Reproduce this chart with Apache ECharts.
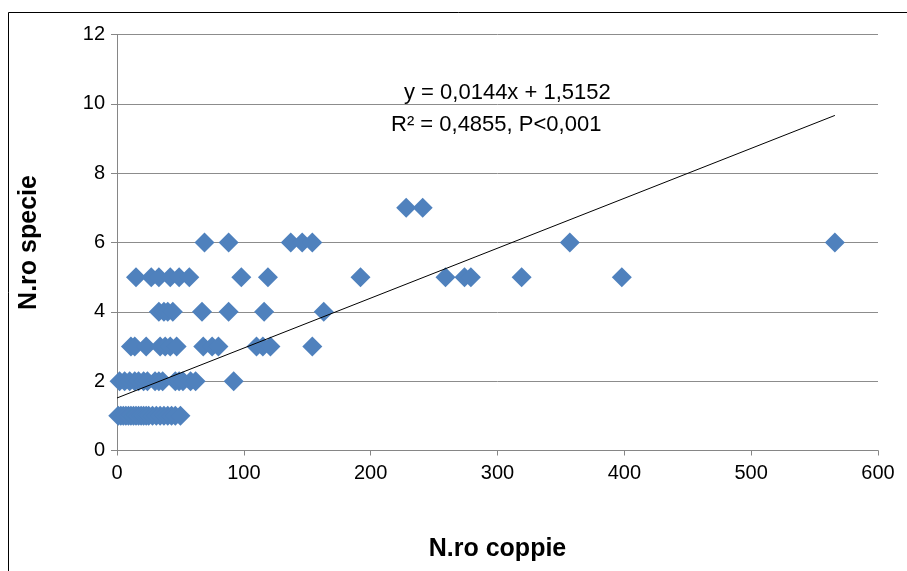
<!DOCTYPE html>
<html><head><meta charset="utf-8">
<script src="https://cdn.jsdelivr.net/npm/echarts@6/dist/echarts.min.js"></script>
<style>html,body{margin:0;padding:0;background:#fff}#c{width:907px;height:571px}</style>
</head><body><div id="c"></div>
<script>
// Data: x = N.ro coppie, y = N.ro specie
const ySpecie1 = [1,3,5,7,9,11,13,15,17,19,21,23,25,28,31,34,37,40,43,46,50];
const ySpecie2 = [2,6,10,14,17,21,24,30,33,36,46,49,52,58,62,92];
const ySpecie3 = [11,14,23,34,38,42,47,68,75,80,110,115,121,154];
const ySpecie4 = [33,37,40,44,67,88,116,163];
const ySpecie5 = [15,27,33,42,49,57,98,119,192,259,274,279,319,398];
const ySpecie6 = [69,88,137,146,154,357,566];
const ySpecie7 = [228,241];
const slope = 0.0144;
const intercept = 1.5152;
const trendX = [0, 566];
const xTicks = [0,100,200,300,400,500,600];
const yTicks = [0,2,4,6,8,10,12];

const groups = [[1,ySpecie1],[2,ySpecie2],[3,ySpecie3],[4,ySpecie4],[5,ySpecie5],[6,ySpecie6],[7,ySpecie7]];
const points = [];
groups.forEach(([y, xs]) => xs.forEach(x => points.push([x, y])));
const trend = trendX.map(x => [x, intercept + slope * x]);

const font = "'Liberation Sans',sans-serif";
const chart = echarts.init(document.getElementById('c'), null, {renderer:'canvas'});
chart.setOption({
  animation:false,
  backgroundColor:'#fff',
  grid:{left:117, right:29, top:34.5, bottom:120.5},
  xAxis:{type:'value', min:xTicks[0], max:xTicks[xTicks.length-1], interval:100,
    axisLine:{show:true, lineStyle:{color:'#868686', width:1}},
    axisTick:{show:true, length:5, lineStyle:{color:'#868686'}},
    axisLabel:{color:'#000', fontSize:20, fontFamily:font, margin:13},
    splitLine:{show:false},
    name:'N.ro coppie', nameLocation:'middle', nameGap:86,
    nameTextStyle:{fontSize:25, fontWeight:'bold', fontFamily:font, color:'#000'}},
  yAxis:{type:'value', min:yTicks[0], max:yTicks[yTicks.length-1], interval:2,
    axisLine:{show:true, lineStyle:{color:'#868686', width:1}},
    axisTick:{show:true, length:6, lineStyle:{color:'#868686'}},
    axisLabel:{color:'#000', fontSize:20, fontFamily:font, margin:12},
    splitLine:{show:true, lineStyle:{color:'#8c8c8c', width:1}},
    name:'N.ro specie', nameLocation:'middle', nameGap:75, nameRotate:90,
    nameTextStyle:{fontSize:25, fontWeight:'bold', fontFamily:font, color:'#000'}},
  series:[
    {type:'scatter', data:points, symbol:'diamond', symbolSize:[20,20],
     itemStyle:{color:'#4F81BD', opacity:1}, z:3},
    {type:'line', data:trend, symbol:'none', lineStyle:{color:'#000', width:1}, z:4}
  ],
  graphic:[
    {type:'rect', shape:{x:8.5, y:12.5, width:920, height:600}, style:{fill:'none', stroke:'#000', lineWidth:1}, silent:true},
    {type:'text', left:404, top:82, style:{text:'y = 0,0144x + 1,5152', font:"22px 'Liberation Sans',sans-serif", fill:'#000'}},
    {type:'text', left:391, top:114, style:{text:'R² = 0,4855, P<0,001', font:"22px 'Liberation Sans',sans-serif", fill:'#000'}}
  ]
});
</script></body></html>
